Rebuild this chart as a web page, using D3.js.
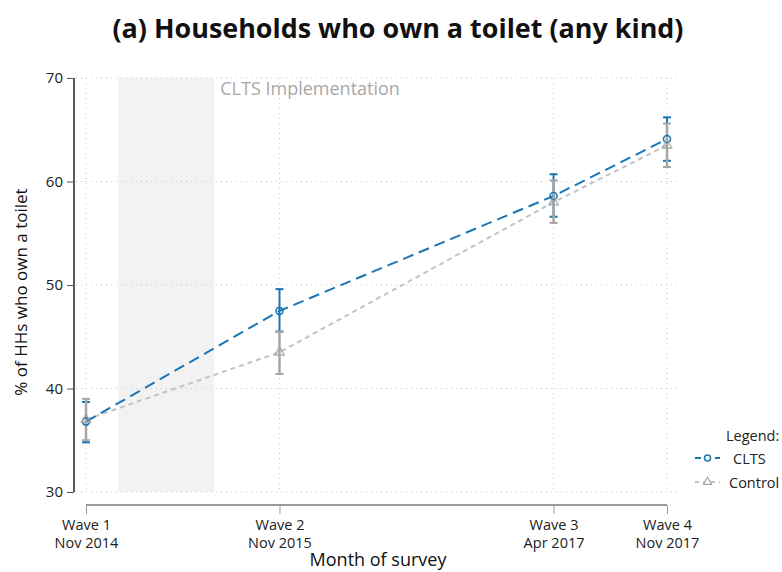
<!DOCTYPE html>
<html><head><meta charset="utf-8">
<script src="https://cdn.jsdelivr.net/npm/d3@7"></script>
<style>body{margin:0;background:#fff}svg{display:block}text{font-family:"Open Sans","Noto Sans",sans-serif}</style>
</head><body>
<svg id="chart" width="782" height="572"></svg>
<script>
const waveLabels = ["Wave 1","Wave 2","Wave 3","Wave 4"];
const waveMonths = ["Nov 2014","Nov 2015","Apr 2017","Nov 2017"];
const waveDates = [new Date(2014,10,1), new Date(2015,10,1), new Date(2017,3,1), new Date(2017,10,1)];
const cltsMean = [36.8, 47.5, 58.6, 64.1];
const cltsLow  = [34.8, 45.5, 56.6, 62.0];
const cltsHigh = [38.7, 49.6, 60.7, 66.2];
const ctrlMean = [37.0, 43.5, 58.0, 63.5];
const ctrlLow  = [35.0, 41.4, 56.0, 61.4];
const ctrlHigh = [39.0, 45.5, 60.1, 65.6];
const yTicks = [30, 40, 50, 60, 70];
const implStart = new Date(2015,0,1), implEnd = new Date(2015,6,1);

const svg = d3.select("#chart");
const x = d3.scaleTime().domain([waveDates[0], waveDates[3]]).range([86, 667]);
const y = d3.scaleLinear().domain([30, 70]).range([492, 78]);
const blue = "#1a75b3", gray = "#c2c2c2", grayBar = "#a6a6a6";

// title
svg.append("text").attr("x", 398).attr("y", 38).attr("text-anchor","middle")
  .attr("font-size", 27).attr("font-weight", "bold").attr("fill","#111")
  .attr("textLength", 571).attr("lengthAdjust","spacingAndGlyphs")
  .text("(a) Households who own a toilet (any kind)");

// shaded implementation period
svg.append("rect").attr("x", x(implStart)).attr("y", y(70))
  .attr("width", x(implEnd)-x(implStart)).attr("height", y(30)-y(70)).attr("fill","#f2f2f2");
svg.append("text").attr("x", x(implEnd)+6).attr("y", 95).attr("font-size", 18).attr("fill","#a8a8a8")
  .text("CLTS Implementation");

// grid
const g = svg.append("g");
g.selectAll("line.hg").data(yTicks).join("line")
  .attr("x1", 76).attr("x2", 680).attr("y1", d=>y(d)).attr("y2", d=>y(d))
  .attr("stroke","#c8c8c8").attr("stroke-width",1).attr("stroke-dasharray","1,4");
g.selectAll("line.vg").data(waveDates).join("line")
  .attr("x1", d=>x(d)).attr("x2", d=>x(d)).attr("y1", y(70)).attr("y2", y(30))
  .attr("stroke","#c8c8c8").attr("stroke-width",1).attr("stroke-dasharray","1,4");

// y axis
const ya = svg.append("g").attr("transform","translate(74,0)")
  .call(d3.axisLeft(y).tickValues(yTicks).tickSize(7).tickPadding(4));
ya.select(".domain").attr("stroke","#222").attr("stroke-width",1.5).attr("d", `M0,${y(70)}V${y(30)}`);
ya.selectAll(".tick line").attr("stroke","#555");
ya.selectAll(".tick text").attr("font-size",15).attr("fill","#222").attr("font-family","'Open Sans',sans-serif");

// x axis
const xa = svg.append("g").attr("transform","translate(0,505)")
  .call(d3.axisBottom(x).tickValues(waveDates).tickSize(9).tickFormat(()=>""));
xa.select(".domain").attr("stroke","#999").attr("stroke-width",2).attr("d", `M${x(waveDates[0])},0H${x(waveDates[3])}`);
xa.selectAll(".tick line").attr("stroke","#999");
xa.selectAll(".tick").each(function(d,i){
  const t = d3.select(this).append("g").attr("fill","#222").attr("font-size",14.5)
    .attr("text-anchor","middle").attr("font-family","'Open Sans',sans-serif");
  t.append("text").attr("x",0).attr("y",25).text(waveLabels[i]);
  t.append("text").attr("x",0).attr("y",43).text(waveMonths[i]);
});

svg.append("text").attr("x", 378).attr("y", 566).attr("text-anchor","middle")
  .attr("font-size",18).attr("fill","#111").text("Month of survey");
svg.append("text").attr("transform","translate(27,292) rotate(-90)").attr("text-anchor","middle")
  .attr("font-size",17).attr("fill","#111").text("% of HHs who own a toilet");

// lines
const line = d3.line().x(d=>x(d[0])).y(d=>y(d[1]));
svg.append("path").datum(waveDates.map((d,i)=>[d,ctrlMean[i]])).attr("d",line)
  .attr("fill","none").attr("stroke",gray).attr("stroke-width",2).attr("stroke-dasharray","5,4");
svg.append("path").datum(waveDates.map((d,i)=>[d,cltsMean[i]])).attr("d",line)
  .attr("fill","none").attr("stroke",blue).attr("stroke-width",2).attr("stroke-dasharray","11,6");

// error bars
function errbars(lo, hi, color, w){
  const eg = svg.append("g");
  waveDates.forEach((d,i)=>{
    const cx = x(d);
    eg.append("line").attr("x1",cx).attr("x2",cx).attr("y1",y(lo[i])).attr("y2",y(hi[i])).attr("stroke",color).attr("stroke-width",w);
    [lo[i],hi[i]].forEach(v=>eg.append("line").attr("x1",cx-4).attr("x2",cx+4).attr("y1",y(v)).attr("y2",y(v)).attr("stroke",color).attr("stroke-width",2));
  });
}
errbars(cltsLow, cltsHigh, blue, 2);
errbars(ctrlLow, ctrlHigh, grayBar, 2.5);

// markers
svg.append("g").selectAll("circle").data(waveDates).join("circle")
  .attr("cx",d=>x(d)).attr("cy",(d,i)=>y(cltsMean[i])).attr("r",3.5)
  .attr("fill","none").attr("stroke",blue).attr("stroke-width",1.5);
const tri = d3.symbol().type(d3.symbolTriangle).size(40);
svg.append("g").selectAll("path").data(waveDates).join("path")
  .attr("transform",(d,i)=>`translate(${x(d)},${y(ctrlMean[i])})`).attr("d",tri)
  .attr("fill","none").attr("stroke",grayBar).attr("stroke-width",1.2);

// legend
const lg = svg.append("g");
lg.append("text").attr("x",726).attr("y",441).attr("font-size",14.5).attr("fill","#222").text("Legend:");
lg.append("line").attr("x1",695).attr("x2",720).attr("y1",458).attr("y2",458).attr("stroke",blue).attr("stroke-width",2).attr("stroke-dasharray","6,4");
lg.append("circle").attr("cx",707.5).attr("cy",458).attr("r",3).attr("fill","#fff").attr("stroke",blue).attr("stroke-width",1.5);
lg.append("text").attr("x",733).attr("y",464).attr("font-size",14.5).attr("fill","#222").text("CLTS");
lg.append("line").attr("x1",695).attr("x2",720).attr("y1",482).attr("y2",482).attr("stroke",gray).attr("stroke-width",2).attr("stroke-dasharray","4,4");
lg.append("path").attr("transform","translate(707.5,482)").attr("d",d3.symbol().type(d3.symbolTriangle).size(30))
  .attr("fill","#fff").attr("stroke",grayBar).attr("stroke-width",1.2);
lg.append("text").attr("x",729).attr("y",488).attr("font-size",14.5).attr("fill","#222").text("Control");
</script>
</body></html>
